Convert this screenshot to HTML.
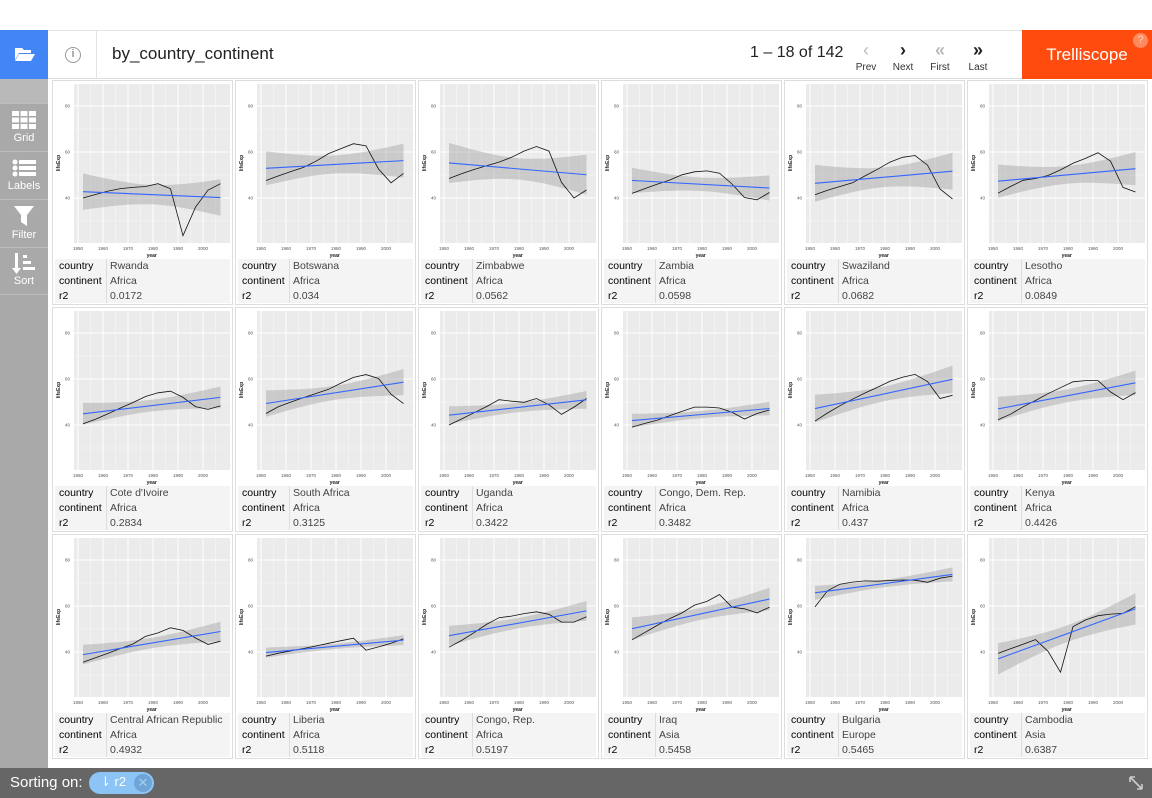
<!DOCTYPE html>
<html><head><meta charset="utf-8"><style>
*{box-sizing:border-box;margin:0;padding:0}
body{width:1152px;height:798px;overflow:hidden;background:#fff;font-family:"Liberation Sans",sans-serif;position:relative}
.abs{position:absolute}
.hdr{left:0;top:30px;width:1152px;height:49px;border-top:1px solid #e4e4e4;border-bottom:1px solid #ddd;background:#fff}
.side{left:0;top:79px;width:48px;height:689px;background:#a9a9a9}
.si{position:absolute;left:0;width:48px;color:#fff;font-size:11px;text-align:center;border-top:1px solid #bdbdbd}
.panel{position:absolute;width:181px;height:225px;border:1px solid #ddd;background:#fff}
.lab{position:absolute;left:2px;top:178px;width:175px;height:44px;background:#f4f4f4;font-size:10.5px;color:#222}
.lab div{position:absolute;left:0;height:15px;line-height:15px;width:100%}
.lab b{position:absolute;left:4px;font-weight:normal;color:#000}
.lab span{position:absolute;left:55px;color:#444}
.lab i{position:absolute;left:51px;top:0;width:1px;height:44px;background:#ddd}
.foot{left:0;top:768px;width:1152px;height:30px;background:#666}
</style></head><body>
<div class="abs hdr"></div>
<div class="abs" style="left:0;top:30px;width:48px;height:49px;background:#4285f4"></div>
<svg class="abs" style="left:14px;top:46px" width="22" height="16"><path d="M1 2h7l2 2h7v3H5L1 14z" fill="#fff"/><path d="M5 8h16l-4 7H1z" fill="#fff"/></svg>
<div class="abs" style="left:65px;top:47px;width:16px;height:16px;border:1.5px solid #999;border-radius:50%;color:#999;font-size:11px;text-align:center;line-height:13px;font-weight:bold">i</div>
<div class="abs" style="left:96px;top:31px;width:1px;height:47px;background:#e4e4e4"></div>
<div class="abs" style="left:112px;top:44px;font-size:17px;color:#222">by_country_continent</div>
<div class="abs" style="left:750px;top:44px;font-size:16px;color:#222">1 – 18 of 142</div>
<div class="abs" style="left:852px;top:40px;width:28px;text-align:center;font-size:18px;color:#bbb">‹</div>
<div class="abs" style="left:852px;top:62px;width:28px;text-align:center;font-size:10px;color:#333">Prev</div>
<div class="abs" style="left:889px;top:40px;width:28px;text-align:center;font-size:18px;color:#222;font-weight:bold">›</div>
<div class="abs" style="left:889px;top:62px;width:28px;text-align:center;font-size:10px;color:#333">Next</div>
<div class="abs" style="left:926px;top:40px;width:28px;text-align:center;font-size:18px;color:#bbb;font-weight:bold">«</div>
<div class="abs" style="left:926px;top:62px;width:28px;text-align:center;font-size:10px;color:#333">First</div>
<div class="abs" style="left:964px;top:40px;width:28px;text-align:center;font-size:18px;color:#222;font-weight:bold">»</div>
<div class="abs" style="left:964px;top:62px;width:28px;text-align:center;font-size:10px;color:#333">Last</div>
<div class="abs" style="left:1022px;top:30px;width:130px;height:49px;background:#ff4c0e;color:#fff;font-size:17px;text-align:center;line-height:49px">Trelliscope</div>
<div class="abs" style="left:1133px;top:33px;width:15px;height:15px;border-radius:50%;background:#ff8a5e;color:#ffd0bd;font-size:11px;text-align:center;line-height:15px">?</div>
<div class="abs side">
 <div style="position:absolute;left:0;top:0;width:48px;height:24px;background:#b9b9b9"></div>
 <div class="si" style="top:24px;height:48px"><svg width="24" height="18" style="margin-top:7px"><g fill="#fff"><rect x="0" y="0" width="7" height="5"/><rect x="8.5" y="0" width="7" height="5"/><rect x="17" y="0" width="7" height="5"/><rect x="0" y="6.5" width="7" height="5"/><rect x="8.5" y="6.5" width="7" height="5"/><rect x="17" y="6.5" width="7" height="5"/><rect x="0" y="13" width="7" height="5"/><rect x="8.5" y="13" width="7" height="5"/><rect x="17" y="13" width="7" height="5"/></g></svg><div>Grid</div></div>
 <div class="si" style="top:72px;height:48px"><svg width="24" height="18" style="margin-top:7px"><g fill="#fff"><circle cx="3" cy="3" r="2.5"/><rect x="7" y="1" width="17" height="4"/><circle cx="3" cy="9" r="2.5"/><rect x="7" y="7" width="17" height="4"/><circle cx="3" cy="15" r="2.5"/><rect x="7" y="13" width="17" height="4"/></g></svg><div>Labels</div></div>
 <div class="si" style="top:120px;height:48px"><svg width="20" height="20" style="margin-top:6px"><path d="M0 0h20l-7 9v11l-6-4V9z" fill="#fff"/></svg><div>Filter</div></div>
 <div class="si" style="top:168px;height:48px;border-bottom:1px solid #bdbdbd"><svg width="24" height="22" style="margin-top:5px"><g fill="#fff"><rect x="3" y="0" width="3" height="17"/><path d="M0 15h9l-4.5 6z"/><rect x="11" y="2" width="4" height="3"/><rect x="11" y="8" width="8" height="3"/><rect x="11" y="14" width="12" height="3"/></g></svg><div style="margin-top:-3px">Sort</div></div>
</div>
<div id="panels"></div>
<div class="abs foot"></div>
<div class="abs" style="left:10px;top:774px;font-size:15px;color:#fff">Sorting on:</div>
<div class="abs" style="left:89px;top:772px;width:65px;height:22px;border-radius:11px;background:#8cc4f5"></div>
<div class="abs" style="left:100px;top:774px;font-size:13px;color:#fff">⇂ r2</div>
<div class="abs" style="left:134px;top:774px;width:18px;height:18px;border-radius:50%;background:#6fa5d6;color:#a9cdee;font-size:13px;text-align:center;line-height:18px">✕</div>
<svg class="abs" style="left:1128px;top:775px" width="16" height="16"><g stroke="#ccc" stroke-width="1.6" fill="none"><path d="M2 2l12 12M2 2h5M2 2v5M14 14h-5M14 14v-5"/></g></svg>
<script>
var D=[
["Rwanda","Africa","0.0172",[40,41.5,43,44.1,44.6,45,46.2,44,23.6,36,43.4,46.2]],
["Botswana","Africa","0.034",[47.6,49.6,51.5,53.3,56,59.3,61.5,63.6,62.7,52.6,46.6,50.7]],
["Zimbabwe","Africa","0.0562",[48.5,50.5,52.4,54,55.6,57.7,60.4,62.4,60.4,46.8,40,43.5]],
["Zambia","Africa","0.0598",[42,44,46,47.8,50.1,51.4,51.8,50.8,46.1,40.2,39.2,42.4]],
["Swaziland","Africa","0.0682",[41.4,43.4,45,46.6,49.6,52.5,55.6,57.7,58.5,54.3,43.9,39.6]],
["Lesotho","Africa","0.0849",[42.1,45,47.7,48.5,49.8,52.2,55.1,57.2,59.7,56,44.6,42.6]],
["Cote d'Ivoire","Africa","0.2834",[40.5,42.5,44.9,47.4,49.8,52.4,54,54.7,52,48,46.8,48.3]],
["South Africa","Africa","0.3125",[45,48,50,51.9,53.7,55.5,58.2,60.7,61.9,60.2,53.4,49.3]],
["Uganda","Africa","0.3422",[40,42.6,45.3,48,51,50.35,49.85,51.5,48.8,44.6,47.8,51.5]],
["Congo, Dem. Rep.","Africa","0.3482",[39.1,40.65,42.1,44.05,45.9,47.8,47.8,47.4,45.5,42.6,45,46.5]],
["Namibia","Africa","0.437",[41.7,45.2,48.4,51.2,53.9,56.4,59,60.8,62,58.9,51.5,52.9]],
["Kenya","Africa","0.4426",[42.3,44.7,47.9,50.65,53.6,56.2,58.8,59.3,59.3,54.4,51,54.1]],
["Central African Republic","Africa","0.4932",[35.5,37.5,39.5,41.5,43.5,46.8,48.3,50.5,49.4,46.1,43.3,44.7]],
["Liberia","Africa","0.5118",[38.2,39.5,40.5,41.5,42.6,43.8,44.9,46,40.8,42.2,43.8,45.7]],
["Congo, Rep.","Africa","0.5197",[42.1,45,48.4,52,54.9,55.6,56.7,57.5,56.4,53,53,55.3]],
["Iraq","Asia","0.5458",[45.3,48.4,51.5,54.5,57,60.4,62,65,59.5,58.8,57,59.5]],
["Bulgaria","Europe","0.5465",[59.6,66.6,69.5,70.4,70.9,70.8,71.1,71.3,71.2,70.3,72.1,73]],
["Cambodia","Asia","0.6387",[39.4,41.4,43.4,45.4,40.3,31.2,51,53.9,55.8,56.5,56.8,59.7]]];
var xs=[52,235,418,601,784,967],ys=[80,307,534],h="";
function X(yr){return 25+(yr-1950)*2.5}
function Y(v){return 117-(v-40)*2.3}
D.forEach(function(d,i){
 var px=xs[i%6],py=ys[Math.floor(i/6)],v=d[3],yrs=[],n=12,s="";
 for(var k=0;k<12;k++)yrs.push(1952+5*k);
 var mx=1979.5,my=v.reduce((a,b)=>a+b)/n,sxx=0,sxy=0;
 for(k=0;k<n;k++){sxx+=(yrs[k]-mx)**2;sxy+=(yrs[k]-mx)*(v[k]-my)}
 var b=sxy/sxx,a=my-b*mx,sse=0;
 for(k=0;k<n;k++)sse+=(v[k]-a-b*yrs[k])**2;
 var se=Math.sqrt(sse/(n-2)),t=2.228,up=[],lo=[];
 for(var yr=1952;yr<=2007;yr+=2.75){var f=a+b*yr,w=t*se*Math.sqrt(1/n+(yr-mx)**2/sxx);up.push(X(yr).toFixed(1)+","+Y(f+w).toFixed(1));lo.unshift(X(yr).toFixed(1)+","+Y(f-w).toFixed(1))}
 s+='<rect x="21" y="3" width="156" height="159" fill="#ebebeb"/>';
 [30,50,70].forEach(g=>s+='<line x1="21" x2="177" y1="'+Y(g)+'" y2="'+Y(g)+'" stroke="#f7f7f7" stroke-width="0.6"/>');
 [1955,1965,1975,1985,1995,2005].forEach(g=>s+='<line y1="3" y2="162" x1="'+X(g)+'" x2="'+X(g)+'" stroke="#f7f7f7" stroke-width="0.6"/>');
 [40,60,80].forEach(g=>s+='<line x1="21" x2="177" y1="'+Y(g)+'" y2="'+Y(g)+'" stroke="#fff" stroke-width="1"/><text x="17" y="'+(Y(g)+1.5)+'" font-size="4.5" fill="#555" text-anchor="end">'+g+'</text>');
 [1950,1960,1970,1980,1990,2000].forEach(g=>s+='<line y1="3" y2="162" x1="'+X(g)+'" x2="'+X(g)+'" stroke="#fff" stroke-width="1"/><text x="'+X(g)+'" y="169" font-size="4.5" fill="#555" text-anchor="middle">'+g+'</text>');
 s+='<text x="'+X(1979.5)+'" y="176" font-size="5" font-weight="bold" fill="#222" text-anchor="middle">year</text>';
 s+='<text transform="translate(7,82) rotate(-90)" font-size="5" font-weight="bold" fill="#222" text-anchor="middle">lifeExp</text>';
 s+='<polygon points="'+up.concat(lo).join(" ")+'" fill="#999" fill-opacity="0.4"/>';
 s+='<polyline points="'+v.map((q,k)=>X(yrs[k]).toFixed(1)+","+Y(q).toFixed(1)).join(" ")+'" fill="none" stroke="#111" stroke-width="0.8"/>';
 s+='<line x1="'+X(1952)+'" y1="'+Y(a+b*1952)+'" x2="'+X(2007)+'" y2="'+Y(a+b*2007)+'" stroke="#3366ff" stroke-width="1.1"/>';
 h+='<div class="panel" style="left:'+px+'px;top:'+py+'px"><svg width="179" height="178" style="position:absolute;left:0;top:0">'+s+'</svg><div class="lab"><i></i><div style="top:0"><b>country</b><span>'+d[0]+'</span></div><div style="top:15px"><b>continent</b><span>'+d[1]+'</span></div><div style="top:30px"><b>r2</b><span>'+d[2]+'</span></div></div></div>';
});
document.getElementById("panels").innerHTML=h;
</script>
</body></html>
